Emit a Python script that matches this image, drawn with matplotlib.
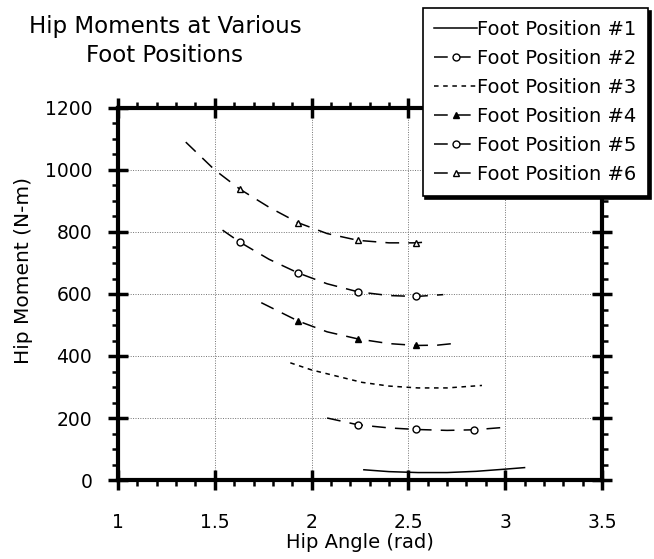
import numpy as np
import matplotlib
matplotlib.use("Agg")
import matplotlib.pyplot as plt
from matplotlib.ticker import MultipleLocator

plt.rcParams["font.family"] = "DejaVu Sans"

# values: (hip angle rad, hip moment N-m)
fp1_x = [2.27, 2.4, 2.55, 2.7, 2.85, 3.0, 3.1]
fp1_y = [33, 27, 24, 24, 28, 35, 40]
fp2_x = [2.08, 2.24, 2.4, 2.54, 2.7, 2.84, 3.0]
fp2_y = [200, 178, 168, 163, 160, 162, 170]
fp3_x = [1.89, 2.0, 2.13, 2.26, 2.4, 2.55, 2.7, 2.88]
fp3_y = [378, 355, 335, 315, 303, 297, 297, 305]
fp4_x = [1.74, 1.93, 2.08, 2.24, 2.4, 2.54, 2.65, 2.76]
fp4_y = [572, 513, 478, 455, 440, 434, 435, 442]
fp5_x = [1.54, 1.63, 1.78, 1.93, 2.08, 2.24, 2.4, 2.54, 2.68]
fp5_y = [806, 767, 712, 668, 633, 607, 595, 592, 598]
fp6_x = [1.35, 1.5, 1.63, 1.78, 1.93, 2.08, 2.24, 2.4, 2.54, 2.58]
fp6_y = [1090, 1000, 938, 880, 830, 795, 773, 765, 765, 767]

labels = ["Foot Position #%d" % i for i in range(1, 7)]

long_dash = (0, (9, 6))
short_dash = (0, (3, 3))

fig = plt.figure(figsize=(6.54, 5.59), dpi=100)
ax = fig.add_axes([118 / 654, 1 - 480 / 559, 484 / 654, 372 / 559])

kw = dict(color="black", lw=1.1)
ms = 5
ax.plot(fp1_x, fp1_y, ls="-", label=labels[0], **kw)
ax.plot(fp2_x, fp2_y, ls=long_dash, marker="o", mfc="white", ms=ms,
		markevery=[1, 3, 5], label=labels[1], **kw)
ax.plot(fp3_x, fp3_y, ls=short_dash, label=labels[2], **kw)
ax.plot(fp4_x, fp4_y, ls=long_dash, marker="^", mfc="black", ms=ms,
		markevery=[1, 3, 5], label=labels[3], **kw)
ax.plot(fp5_x, fp5_y, ls=long_dash, marker="o", mfc="white", ms=ms,
		markevery=[1, 3, 5, 7], label=labels[4], **kw)
ax.plot(fp6_x, fp6_y, ls=long_dash, marker="^", mfc="white", ms=ms,
		markevery=[2, 4, 6, 8], label=labels[5], **kw)

ax.set_xlim(1, 3.5)
ax.set_ylim(0, 1200)
ax.xaxis.set_minor_locator(MultipleLocator(0.1))
ax.yaxis.set_major_locator(MultipleLocator(200))
ax.yaxis.set_minor_locator(MultipleLocator(50))
ax.set_xticks([1, 1.5, 2, 2.5, 3, 3.5])
ax.set_xticklabels(["1", "1.5", "2", "2.5", "3", "3.5"])

ax.grid(True, which="major", ls=(0, (1, 1.5)), color="0.45", lw=0.7)
for s in ax.spines.values():
	s.set_linewidth(3)
ax.tick_params(which="major", direction="inout", length=15, width=2.5,
		top=True, right=True, labelsize=13.5, pad=11)
ax.tick_params(which="minor", direction="out", length=4, width=1.8,
		top=True, right=True)
ax.tick_params(axis="x", which="major", pad=16)

ax.set_xlabel("Hip Angle (rad)", fontsize=14, labelpad=1)
fig.text(24 / 654, 1 - 270 / 559, "Hip Moment (N-m)", rotation=90,
		ha="center", va="center", fontsize=14.5)

fig.text(165 / 654, 1 - 27 / 559, "Hip Moments at Various", ha="center",
		va="center", fontsize=16.5)
fig.text(165 / 654, 1 - 55 / 559, "Foot Positions", ha="center",
		va="center", fontsize=16.5)

leg = ax.legend(loc="upper right", bbox_to_anchor=(648 / 654, 1 - 8 / 559),
		bbox_transform=fig.transFigure, fontsize=14, frameon=True,
		fancybox=False, shadow={"color": "black", "alpha": 1},
		edgecolor="black", framealpha=1, handlelength=2.2,
		handletextpad=0.0, labelspacing=0.52, borderpad=0.6,
		borderaxespad=0)
leg.get_frame().set_linewidth(1.2)

fig.savefig("out.png", dpi=100)
